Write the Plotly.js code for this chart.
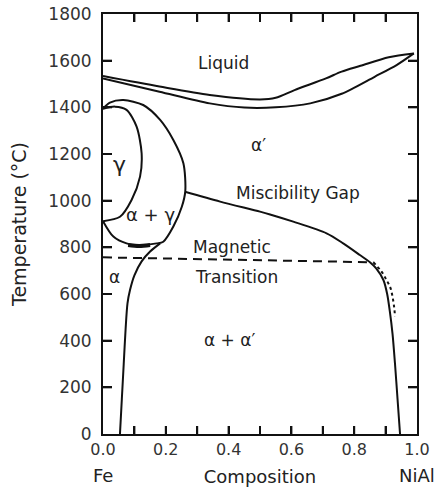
<!DOCTYPE html>
<html>
<head>
<meta charset="utf-8">
<script src="https://cdn.plot.ly/plotly-3.0.1.min.js"></script>
<style>html,body{margin:0;padding:0;background:#fff;}#chart{width:435px;height:489px;}</style>
</head>
<body>
<div id="chart"></div>
<script>
// Liquidus (upper) and solidus (lower) boundaries
const liquidusX = [0, 0.18, 0.34, 0.5, 0.55, 0.61, 0.71, 0.76, 0.82, 0.91, 0.99];
const liquidusT = [1534, 1489, 1453, 1434, 1441, 1474, 1524, 1553, 1578, 1615, 1631];
const solidusX = [0, 0.18, 0.34, 0.45, 0.55, 0.66, 0.76, 0.865, 0.935, 0.99];
const solidusT = [1524, 1467, 1417, 1399, 1400, 1417, 1458, 1531, 1581, 1631];
// gamma loop (inner)
const gammaX = [0, 0.038, 0.075, 0.107, 0.123, 0.118, 0.091, 0.054, 0];
const gammaT = [1394, 1403, 1389, 1317, 1203, 1103, 1003, 931, 912];
// alpha+gamma loop (outer)
const outerX = [0, 0.022, 0.065, 0.128, 0.182, 0.224, 0.256, 0.262, 0.251, 0.224, 0.192, 0.171, 0.118, 0.075, 0.033, 0];
const outerT = [1394, 1420, 1431, 1410, 1346, 1260, 1160, 1040, 974, 889, 824, 817, 810, 817, 846, 912];
// thick sliver at bottom of alpha+gamma loop
const sliverX = [0.08, 0.115, 0.15];
const sliverT = [810, 806, 810];
// miscibility gap (right boundary)
const gapX = [0.261, 0.373, 0.5, 0.532, 0.606, 0.712, 0.765, 0.818, 0.85, 0.87, 0.893, 0.905, 0.914, 0.922, 0.93, 0.938, 0.946];
const gapT = [1038, 996, 953, 941, 910, 860, 817, 767, 736, 710, 660, 600, 520, 430, 300, 150, 0];
// alpha / alpha+alpha' boundary (left)
const alphaX = [0.182, 0.15, 0.123, 0.1, 0.086, 0.078, 0.072, 0.066, 0.06, 0.054];
const alphaT = [817, 782, 740, 680, 617, 560, 450, 300, 150, 0];
// magnetic transition (dashed)
const magX = [0, 0.861];
const magT = [757, 736];
// dotted branch
const dotX = [0.861, 0.887, 0.903, 0.916, 0.922, 0.927, 0.930];
const dotT = [736, 696, 660, 624, 589, 546, 503];
// tick values / labels
const xTickVals = [0, 0.1, 0.2, 0.3, 0.4, 0.5, 0.6, 0.7, 0.8, 0.9, 1.0];
const xTickText = ['0.0', '', '0.2', '', '0.4', '', '0.6', '', '0.8', '', '1.0'];
const yTickVals = [0, 200, 400, 600, 800, 1000, 1200, 1400, 1600, 1800];
const yTickText = ['0', '200', '400', '600', '800', '1000', '1200', '1400', '1600', '1800'];
// region labels
const labelText = ['Liquid', 'α′', 'γ', 'α + γ', 'Miscibility Gap', 'Magnetic', 'Transition', 'α', 'α + α′'];
const labelX = [0.383, 0.495, 0.054, 0.15, 0.622, 0.41, 0.426, 0.038, 0.404];
const labelT = [1589, 1239, 1153, 939, 1032, 803, 674, 674, 403];
const labelSize = [17, 17, 22, 18, 17, 17, 17, 17, 17];

const black = '#111111';
function line(x, y, extra) {
  return Object.assign({x: x, y: y, type: 'scatter', mode: 'lines', hoverinfo: 'skip',
    line: {color: black, width: 2, shape: 'spline', smoothing: 0.8}}, extra || {});
}
const traces = [
  line(liquidusX, liquidusT), line(solidusX, solidusT), line(gammaX, gammaT), line(outerX, outerT),
  line(sliverX, sliverT, {line: {color: black, width: 4, shape: 'spline'}}),
  line(gapX, gapT), line(alphaX, alphaT),
  line(magX, magT, {line: {color: black, width: 2, dash: '9px,6px'}}),
  line(dotX, dotT, {line: {color: black, width: 2, dash: 'dot', shape: 'spline'}})
];

const font = 'DejaVu Sans, sans-serif';
const annotations = labelText.map((t, i) => ({
  text: t, x: labelX[i], y: labelT[i], xref: 'x', yref: 'y', showarrow: false,
  font: {family: font, size: labelSize[i], color: '#222'}
}));
annotations.push({text: 'Fe', x: 0, y: -0.098, xref: 'x', yref: 'paper', showarrow: false,
  xanchor: 'center', yanchor: 'middle', font: {family: font, size: 18, color: '#222'}});
annotations.push({text: 'NiAl', x: 1.0, y: -0.098, xref: 'x', yref: 'paper', showarrow: false,
  xanchor: 'center', yanchor: 'middle', font: {family: font, size: 18, color: '#222'}});

// inside tick marks on all four sides, placed by the axes from the tick arrays
const tickLine = {color: black, width: 2};
const shapes = [];
xTickVals.filter(v => v > 0 && v < 1).forEach(v => {
  shapes.push({type: 'line', xref: 'x', x0: v, x1: v, yref: 'paper', ysizemode: 'pixel', yanchor: 0, y0: 0, y1: 8, line: tickLine});
  shapes.push({type: 'line', xref: 'x', x0: v, x1: v, yref: 'paper', ysizemode: 'pixel', yanchor: 1, y0: 0, y1: -8, line: tickLine});
});
yTickVals.filter(v => v > 0 && v < 1800).forEach(v => {
  shapes.push({type: 'line', yref: 'y', y0: v, y1: v, xref: 'paper', xsizemode: 'pixel', xanchor: 0, x0: 0, x1: 9, line: tickLine});
  shapes.push({type: 'line', yref: 'y', y0: v, y1: v, xref: 'paper', xsizemode: 'pixel', xanchor: 1, x0: 0, x1: -9, line: tickLine});
});

const layout = {
  width: 435, height: 489, margin: {l: 103, r: 18, t: 14, b: 55},
  paper_bgcolor: '#ffffff', plot_bgcolor: '#ffffff', showlegend: false,
  xaxis: {range: [0, 1], showgrid: false, zeroline: false, showline: true, linecolor: black, linewidth: 2, mirror: 'ticks',
    ticks: 'inside', ticklen: 8, tickwidth: 2, tickcolor: black, tickmode: 'array', tickvals: xTickVals, ticktext: xTickText,
    tickfont: {family: font, size: 16, color: '#333'},
    title: {text: 'Composition', font: {family: font, size: 18, color: '#222'}, standoff: 12}},
  yaxis: {range: [0, 1800], showgrid: false, zeroline: false, showline: true, linecolor: black, linewidth: 2, mirror: 'ticks',
    ticks: 'inside', ticklen: 9, tickwidth: 2, tickcolor: black, tickmode: 'array', tickvals: yTickVals, ticktext: yTickText,
    ticklabelstandoff: 6, tickfont: {family: font, size: 17, color: '#333'},
    title: {text: 'Temperature (°C)', font: {family: font, size: 19, color: '#222'}, standoff: 17}},
  annotations: annotations,
  shapes: shapes
};
Plotly.newPlot('chart', traces, layout, {displayModeBar: false});
</script>
</body>
</html>
